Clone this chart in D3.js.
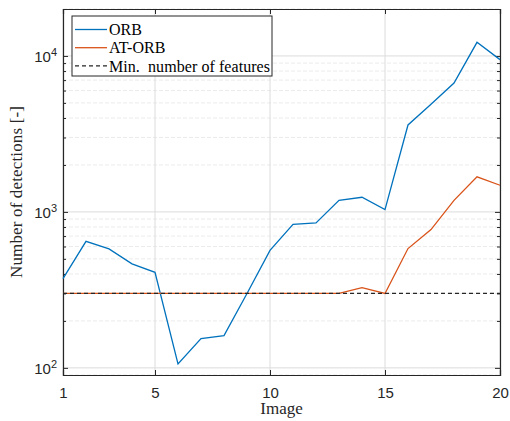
<!DOCTYPE html>
<html>
<head>
<meta charset="utf-8">
<script src="https://cdn.jsdelivr.net/npm/d3@7"></script>
<style>
  body { margin: 0; background: #fff; }
</style>
</head>
<body>
<div id="chart"></div>
<script>
"use strict";

// data
var images = d3.range(1, 21);
var orb = [373, 648, 579, 464, 410, 106, 154, 161, 300, 567, 833, 850, 1186, 1241, 1035, 3610, 4900, 6710, 12230, 9470];
var atOrb = [300, 300, 300, 300, 300, 300, 300, 300, 300, 300, 300, 300, 300, 327, 300, 582, 770, 1186, 1680, 1482];
var minFeatures = 300;
var xTicks = [1, 5, 10, 15, 20];
var yTicks = [100, 1000, 10000];
var legendNames = ["ORB", "AT-ORB", "Min.  number of features"];

var serif = "Liberation Serif";
var sans = "Liberation Sans";

var W = 510, H = 421;
var margin = { top: 9, right: 10, bottom: 46, left: 63 };
var w = W - margin.left - margin.right,
    h = H - margin.top - margin.bottom;

var x = d3.scaleLinear().domain([1, 20]).range([0, w]);
var y = d3.scaleLog().domain([90, 20000]).range([h, 0]);

var svg = d3.select("#chart").append("svg")
    .attr("width", W).attr("height", H)
  .append("g")
    .attr("transform", "translate(" + margin.left + "," + margin.top + ")");

// minor values for log grid
var minor = [];
[10, 100, 1000, 10000].forEach(function(d) {
  for (var k = 2; k <= 9; k++) {
    var v = d * k;
    if (v >= 90 && v <= 20000) minor.push(v);
  }
});

// grid
svg.append("g").selectAll("line").data(minor).join("line")
    .attr("x1", 0).attr("x2", w)
    .attr("y1", d => y(d)).attr("y2", d => y(d))
    .attr("stroke", "#e6e6e6").attr("stroke-dasharray", "4,2").attr("stroke-width", 0.8);
svg.append("g").selectAll("line").data(yTicks).join("line")
    .attr("x1", 0).attr("x2", w)
    .attr("y1", d => y(d)).attr("y2", d => y(d))
    .attr("stroke", "#dcdcdc").attr("stroke-width", 1);
svg.append("g").selectAll("line").data(xTicks).join("line")
    .attr("y1", 0).attr("y2", h)
    .attr("x1", d => x(d)).attr("x2", d => x(d))
    .attr("stroke", "#dcdcdc").attr("stroke-width", 1);

// axes, ticks inward
var xAxis = d3.axisBottom(x).tickValues(xTicks).tickSize(-5).tickPadding(12).tickFormat(d3.format("d"));
var xTop = d3.axisTop(x).tickValues(xTicks).tickSize(-5).tickFormat("");
var yAxis = d3.axisLeft(y).tickValues(yTicks).tickSize(-5).tickPadding(8).tickFormat("");
var yRight = d3.axisRight(y).tickValues(yTicks).tickSize(-5).tickFormat("");
var yMinorL = d3.axisLeft(y).tickValues(minor).tickSize(-3).tickFormat("");
var yMinorR = d3.axisRight(y).tickValues(minor).tickSize(-3).tickFormat("");

function styleAxis(g) {
  g.selectAll(".domain").attr("stroke", "#262626").attr("stroke-width", 1.2);
  g.selectAll(".tick line").attr("stroke", "#262626");
  g.selectAll(".tick text").attr("font-family", sans).attr("font-size", 15).attr("fill", "#262626");
}

svg.append("g").attr("transform", "translate(0," + h + ")").call(xAxis).call(styleAxis);
svg.append("g").call(xTop).call(styleAxis);
var ya = svg.append("g").call(yAxis).call(styleAxis);
svg.append("g").attr("transform", "translate(" + w + ",0)").call(yRight).call(styleAxis);
svg.append("g").call(yMinorL).call(styleAxis).select(".domain").remove();
svg.append("g").attr("transform", "translate(" + w + ",0)").call(yMinorR).call(styleAxis).select(".domain").remove();

// y tick labels as 10^n
ya.selectAll(".tick").each(function(d) {
  var t = d3.select(this).append("text")
      .attr("x", -6).attr("dy", "0.4em")
      .attr("text-anchor", "end")
      .attr("font-family", sans).attr("font-size", 15).attr("fill", "#262626");
  t.append("tspan").text("10");
  t.append("tspan").attr("font-size", 11).attr("dy", "-0.6em").text(Math.round(Math.log10(d)));
});

// lines
var line = d3.line().x((d, i) => x(images[i])).y(d => y(d));
svg.append("path").datum(orb).attr("d", line)
    .attr("fill", "none").attr("stroke", "#0072BD").attr("stroke-width", 1.3);
svg.append("path").datum(atOrb).attr("d", line)
    .attr("fill", "none").attr("stroke", "#D95319").attr("stroke-width", 1.3);
svg.append("line")
    .attr("x1", 0).attr("x2", w)
    .attr("y1", y(minFeatures)).attr("y2", y(minFeatures))
    .attr("stroke", "#262626").attr("stroke-width", 1.2).attr("stroke-dasharray", "4,3");

// axis labels
svg.append("text")
    .attr("x", w / 2).attr("y", h + 39)
    .attr("text-anchor", "middle")
    .attr("font-family", serif).attr("font-size", 17).attr("fill", "#262626")
    .text("Image");
svg.append("text")
    .attr("transform", "translate(-41," + (h / 2) + ") rotate(-90)")
    .attr("text-anchor", "middle")
    .attr("font-family", serif).attr("font-size", 17).attr("fill", "#262626")
    .attr("textLength", 172)
    .text("Number of detections [-]");

// legend
var legend = svg.append("g").attr("transform", "translate(9,7)");
legend.append("rect")
    .attr("width", 200).attr("height", 60)
    .attr("fill", "#fff").attr("stroke", "#262626").attr("stroke-width", 1);
var legColors = ["#0072BD", "#D95319", "#262626"];
legend.selectAll("line.leg").data(legendNames).join("line")
    .attr("class", "leg")
    .attr("x1", 3).attr("x2", 35)
    .attr("y1", (d, i) => 13.5 + i * 18.2).attr("y2", (d, i) => 13.5 + i * 18.2)
    .attr("stroke", (d, i) => legColors[i]).attr("stroke-width", 1.3)
    .attr("stroke-dasharray", (d, i) => i === 2 ? "4,3" : null);
legend.selectAll("text").data(legendNames).join("text")
    .attr("x", 37).attr("y", (d, i) => 13.5 + i * 18.2)
    .attr("dy", "0.35em")
    .attr("font-family", serif).attr("font-size", 16).attr("fill", "#000")
    .attr("textLength", (d, i) => i === 2 ? 161 : null)
    .style("white-space", "pre")
    .text(d => d);
</script>
</body>
</html>
